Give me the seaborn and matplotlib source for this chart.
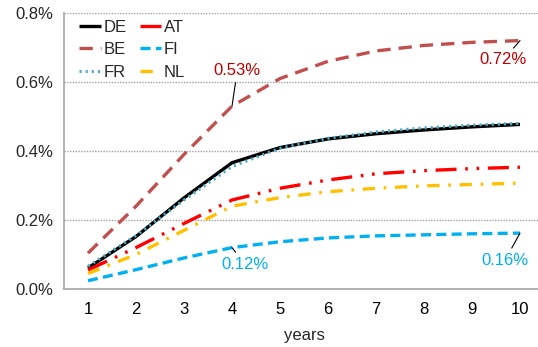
import matplotlib
matplotlib.use("Agg")
import matplotlib.pyplot as plt
import matplotlib.ticker as mticker
import pandas as pd
import seaborn as sns

years = list(range(1, 11))
countries = ["DE", "BE", "FR", "AT", "FI", "NL"]

de = [0.061, 0.152, 0.264, 0.366, 0.410, 0.435, 0.450, 0.461, 0.470, 0.477]
be = [0.104, 0.240, 0.390, 0.530, 0.610, 0.660, 0.690, 0.706, 0.715, 0.720]
fr = [0.066, 0.155, 0.258, 0.355, 0.408, 0.437, 0.455, 0.467, 0.475, 0.480]
at = [0.055, 0.120, 0.190, 0.258, 0.292, 0.316, 0.334, 0.343, 0.349, 0.353]
fi = [0.024, 0.056, 0.090, 0.120, 0.137, 0.148, 0.154, 0.157, 0.160, 0.162]
nl = [0.045, 0.100, 0.170, 0.240, 0.265, 0.282, 0.292, 0.299, 0.303, 0.307]

callouts = [("BE", 4, "0.53%"), ("BE", 10, "0.72%"), ("FI", 4, "0.12%"), ("FI", 10, "0.16%")]

colors = {"DE": "#000000", "BE": "#C0504D", "FR": "#4BACC6",
          "AT": "#FF0000", "FI": "#00B0F0", "NL": "#FFC000"}
dashes = {"DE": "", "BE": (4, 2.4), "FR": (0.7, 1.3),
          "AT": (6.3, 2.6, 0.8, 2.6, 0.8, 2.6), "FI": (3, 1.6),
          "NL": (3.7, 2.6, 0.8, 2.6)}
widths = {"DE": 2.4, "BE": 2.4, "FR": 2.2, "AT": 2.4, "FI": 2.4, "NL": 2.4}

df = pd.DataFrame({"year": years * 6,
                   "value": de + be + fr + at + fi + nl,
                   "country": [c for c in countries for _ in years]})

sns.set_style("white")
plt.rcParams["font.family"] = ["Liberation Sans", "DejaVu Sans"]
fs = 12

fig = plt.figure(figsize=(5.38, 3.47), dpi=100)
ax = fig.add_axes([64 / 538, 58 / 347, 480 / 538, 276 / 347])

sns.lineplot(data=df, x="year", y="value", hue="country", style="country",
             hue_order=countries, style_order=countries,
             palette=colors, dashes=dashes, legend=False, ax=ax)
for line, c in zip(ax.lines, countries):
    line.set_linewidth(widths[c])
    line.set_solid_capstyle("butt")
    line.set_dash_capstyle("butt")

ax.set_xlim(0.5, 10.5)
ax.set_ylim(0, 0.8)
ax.set_xticks(years)
ax.set_xticks([y + 0.5 for y in range(0, 11)], minor=True)
ax.set_yticks([0, 0.2, 0.4, 0.6, 0.8])
ax.yaxis.set_major_formatter(mticker.FuncFormatter(lambda v, p: f"{v:.1f}%"))
ax.tick_params(axis="x", which="major", length=0, labelsize=fs, pad=9, colors="#000000")
ax.tick_params(axis="x", which="minor", length=5, width=1, color="#A6A6A6", direction="out")
ax.tick_params(axis="y", length=5, width=1, color="#A6A6A6", labelsize=fs, pad=3)
ax.grid(axis="y", linestyle=(0, (1, 1)), color="#A0A0A0", linewidth=1)
ax.set_axisbelow(True)
for s in ["top", "right"]:
    ax.spines[s].set_visible(False)
for s in ["left", "bottom"]:
    ax.spines[s].set_color("#A6A6A6")
    ax.spines[s].set_linewidth(1.2)
ax.set_xlabel("years", fontsize=fs, labelpad=8)
ax.set_ylabel("")

leg = ax.legend(ax.lines, countries, ncol=2, loc="upper left", frameon=False,
                bbox_to_anchor=(0.0, 1.03), fontsize=fs, handlelength=1.3,
                handletextpad=0.15, columnspacing=0.8, labelspacing=0.45)

series = {"BE": be, "FI": fi}
text_pos = {("BE", 4): (4.11, 0.633), ("BE", 10): (9.65, 0.664),
            ("FI", 4): (4.27, 0.072), ("FI", 10): (9.69, 0.084)}
text_col = {"BE": "#C00000", "FI": "#00B0F0"}
for c, yr, label in callouts:
    ax.annotate(label, xy=(yr, series[c][yr - 1]), xytext=text_pos[(c, yr)],
                ha="center", va="center", fontsize=fs, color=text_col[c],
                arrowprops=dict(arrowstyle="-", color="black", lw=0.8,
                                shrinkA=1, shrinkB=0))

fig.savefig("out.png", dpi=100)
